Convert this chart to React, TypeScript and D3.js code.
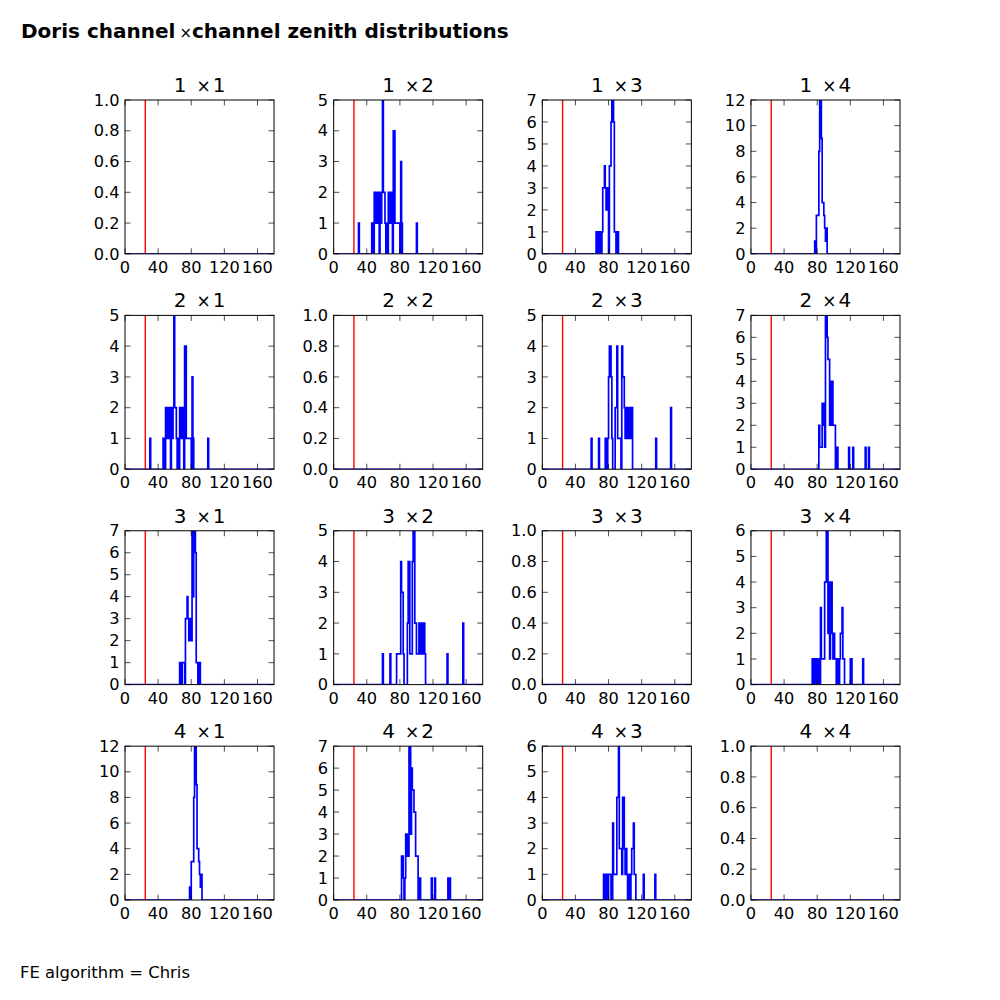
import React from "react";
import * as d3 from "d3";

// ---- data ----
const channels = [1, 2, 3, 4];
const xTicks = [0, 40, 80, 120, 160];
const xDomain = [0, 180];
const cutZenith = 24.5;
const suptitle = "Doris channel";
const suptitle2 = "channel zenith distributions";
const footer = "FE algorithm = Chris";

// y-axis upper limits per panel [row][col]
const yMax = [
  [1, 5, 7, 12],
  [5, 1, 5, 7],
  [7, 5, 1, 6],
  [12, 7, 6, 1],
];

// sparse histograms: [bin start (deg), count], bin width 1 deg
const h12 = [[30,1],[46,1],[47,1],[49,2],[50,1],[51,2],[52,2],[53,1],[54,2],[56,2],[57,1],[58,2],[59,5],[60,2],[61,2],[62,1],[64,1],[66,2],[67,2],[68,1],[69,2],[70,2],[72,4],[73,4],[74,1],[75,1],[76,1],[77,1],[78,1],[79,1],[81,3],[82,1],[100,1]];
const h21 = [[30,1],[46,1],[47,1],[49,2],[50,1],[51,2],[52,2],[53,1],[54,2],[56,2],[57,1],[58,2],[59,5],[60,2],[61,2],[62,1],[64,1],[66,2],[67,2],[68,1],[69,2],[70,2],[72,4],[73,4],[74,1],[75,1],[76,1],[77,1],[78,1],[79,1],[81,3],[82,1],[100,1]];
const h13 = [[65,1],[67,1],[68,1],[70,1],[72,1],[73,3],[74,3],[75,4],[76,3],[77,2],[78,3],[79,2],[81,4],[82,4],[83,6],[84,7],[85,7],[86,6],[87,1],[88,1],[90,1],[91,1]];
const h31 = [[66,1],[67,1],[69,1],[70,1],[71,1],[73,3],[74,3],[75,4],[76,3],[77,2],[78,3],[79,2],[80,2],[81,7],[82,4],[83,7],[84,7],[85,6],[86,1],[87,1],[89,1],[90,1]];
const h14 = [[77,1],[79,3],[80,3],[81,3],[82,8],[83,12],[84,12],[85,9],[86,4],[87,4],[88,3],[89,2],[90,1],[91,2]];
const h41 = [[78,1],[80,3],[81,3],[82,3],[83,8],[84,12],[85,12],[86,9],[87,4],[88,4],[89,3],[90,2],[91,1],[92,2]];
const h23 = [[59,1],[68,1],[76,1],[77,1],[79,1],[80,3],[81,4],[82,4],[83,3],[84,1],[88,2],[89,2],[90,4],[91,1],[92,1],[93,1],[94,1],[96,4],[97,3],[98,3],[99,2],[100,1],[101,2],[102,1],[103,1],[104,2],[105,1],[106,2],[107,1],[108,2],[137,1],[155,2]];
const h32 = [[59,1],[68,1],[76,1],[77,1],[78,1],[79,1],[80,1],[81,4],[82,3],[83,3],[84,1],[89,2],[90,4],[91,4],[92,1],[93,1],[94,1],[95,4],[96,5],[97,5],[98,2],[99,2],[100,1],[101,1],[102,1],[103,2],[104,2],[105,1],[106,2],[107,1],[108,2],[109,2],[110,1],[137,1],[156,2]];
const h24 = [[82,2],[83,1],[84,1],[85,1],[86,3],[87,3],[88,2],[89,1],[90,7],[91,7],[92,6],[93,5],[94,5],[95,2],[96,2],[97,4],[98,4],[99,2],[100,2],[101,2],[104,1],[118,1],[123,1],[138,1],[142,1]];
const h42 = [[82,2],[83,2],[84,1],[86,1],[87,3],[88,3],[89,2],[90,2],[91,7],[92,7],[93,3],[94,6],[95,5],[96,5],[97,4],[98,4],[99,2],[100,2],[101,2],[104,1],[118,1],[122,1],[138,1],[140,1]];
const h34 = [[74,1],[76,1],[78,1],[79,1],[81,1],[82,1],[84,3],[85,1],[86,1],[87,1],[88,1],[89,4],[90,4],[91,6],[92,6],[93,2],[94,4],[95,1],[96,4],[97,4],[98,2],[99,1],[100,2],[101,1],[102,1],[104,1],[105,1],[107,1],[108,2],[109,2],[110,3],[111,1],[112,1],[120,1],[121,1],[135,1]];
const h43 = [[74,1],[77,1],[80,1],[81,1],[82,1],[85,3],[86,1],[87,1],[88,1],[89,1],[90,4],[91,4],[92,6],[93,2],[94,2],[95,2],[96,1],[97,4],[98,4],[99,2],[100,1],[101,2],[102,1],[104,1],[105,1],[107,1],[108,2],[109,2],[110,3],[111,1],[112,1],[122,1],[136,1]];
const empty: number[][] = [];

const histData: number[][][][] = [
  [empty, h12, h13, h14],
  [h21, empty, h23, h24],
  [h31, h32, empty, h34],
  [h41, h42, h43, empty],
];

// ---- layout ----
const W = 1000, H = 1000;
const left = 125, right = 900, top = 100, bottom = 900;
const wspace = 0.4, hspace = 0.4;
const pw = (right - left) / (4 + 3 * wspace);
const ph = (bottom - top) / (4 + 3 * hspace);
const FONT = "DejaVu Sans, Bitstream Vera Sans, sans-serif";
const TICK = 5.5;
const TFS = 16.2;

function Panel({ r, c }: { r: number; c: number }) {
  const x0 = left + c * pw * (1 + wspace);
  const y0 = top + r * ph * (1 + hspace);
  const ymax = yMax[r][c];
  const x = d3.scaleLinear().domain(xDomain).range([0, pw]);
  const y = d3.scaleLinear().domain([0, ymax]).range([ph, 0]);
  const nb = xDomain[1] - xDomain[0];
  const counts = new Array(nb).fill(0);
  histData[r][c].forEach(([b, v]) => { counts[b] = v; });
  const pts: [number, number][] = [[0, 0]];
  counts.forEach((v, i) => { pts.push([i, v]); pts.push([i + 1, v]); });
  pts.push([nb, 0]);
  const line = d3.line<[number, number]>().x(d => x(d[0])).y(d => y(d[1]));
  const step = ymax === 1 ? 0.2 : ymax >= 10 ? 2 : 1;
  const yTicks = d3.range(0, ymax + step / 2, step);
  const fmt = ymax === 1 ? d3.format(".1f") : d3.format("d");
  const id = `clip-${r}-${c}`;
  return (
    <g transform={`translate(${x0},${y0})`}>
      <clipPath id={id}><rect x={0} y={0} width={pw} height={ph} /></clipPath>
      <g clipPath={`url(#${id})`}>
        <path d={line(pts) || ""} fill="none" stroke="#0000ff" strokeWidth={1.7} strokeLinejoin="miter" />
        <line x1={x(cutZenith)} x2={x(cutZenith)} y1={0} y2={ph} stroke="#ff0000" strokeWidth={1.4} />
      </g>
      <rect x={0} y={0} width={pw} height={ph} fill="none" stroke="#000" strokeWidth={1} />
      {xTicks.map(t => (
        <g key={"x" + t}>
          <line x1={x(t)} x2={x(t)} y1={ph} y2={ph - TICK} stroke="#000" strokeWidth={0.7} />
          <line x1={x(t)} x2={x(t)} y1={0} y2={TICK} stroke="#000" strokeWidth={0.7} />
          <text x={x(t)} y={ph + 19} textAnchor="middle" fontSize={TFS} fontFamily={FONT}>{t}</text>
        </g>
      ))}
      {yTicks.map(t => (
        <g key={"y" + t}>
          <line x1={0} x2={TICK} y1={y(t)} y2={y(t)} stroke="#000" strokeWidth={0.7} />
          <line x1={pw} x2={pw - TICK} y1={y(t)} y2={y(t)} stroke="#000" strokeWidth={0.7} />
          <text x={-5.5} y={y(t)} dy="0.35em" textAnchor="end" fontSize={TFS} fontFamily={FONT}>{fmt(t)}</text>
        </g>
      ))}
      <text x={pw / 2} y={-8} textAnchor="middle" fontSize={20} fontFamily={FONT}>
        {channels[r]}
        <tspan dx={10} fontSize={17}>{"\u00D7"}</tspan>
        <tspan dx={2} fontSize={20}>{channels[c]}</tspan>
      </text>
    </g>
  );
}

export default function App() {
  return (
    <svg width={W} height={H} style={{ display: "block", position: "absolute", left: 0, top: 0, background: "#fff" }}>
      <rect width={W} height={H} fill="#fff" />
      <text x={21} y={38} fontSize={20} fontWeight="bold" fontFamily={FONT}>
        {suptitle}
        <tspan dx={4} fontSize={15} fontWeight="normal">{"\u00D7"}</tspan>
        <tspan fontSize={20}>{suptitle2}</tspan>
      </text>
      {channels.map((_, r) => channels.map((__, c) => <Panel key={`${r}-${c}`} r={r} c={c} />))}
      <text x={20} y={978} fontSize={16.4} fontFamily={FONT}>{footer}</text>
    </svg>
  );
}
